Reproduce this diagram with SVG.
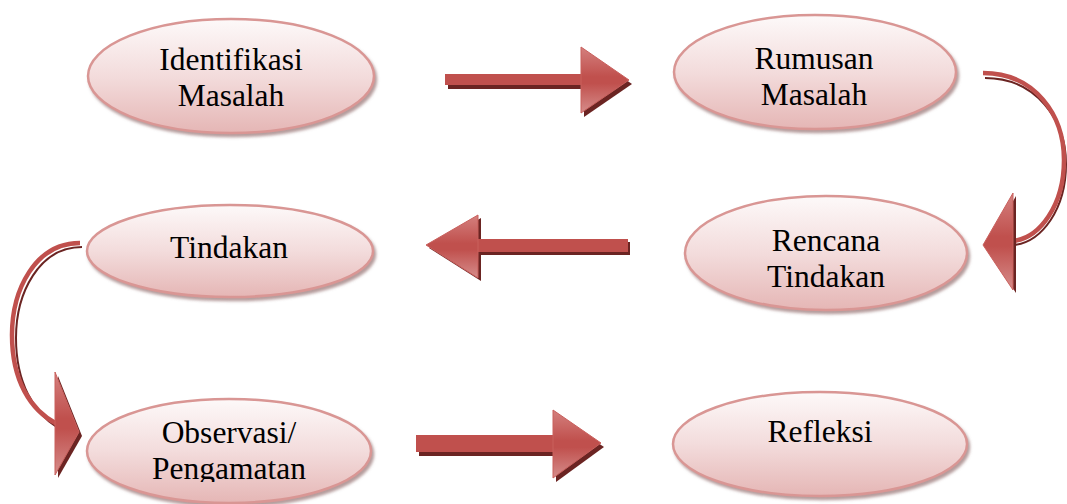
<svg xmlns="http://www.w3.org/2000/svg" width="1067" height="504" viewBox="0 0 1067 504">
<defs>
<style>
.el{fill:url(#eg);stroke:#d99694;stroke-width:2.5;filter:url(#esh)}
.tx{font-family:"Liberation Serif","Times New Roman",serif;font-size:31.5px;fill:#000;text-anchor:middle}
.shaft{fill:#c0504d}
.head{fill:url(#hg);stroke:#c9605d;stroke-width:1}
.shd{fill:#6b2422}
.band{fill:none;stroke:#c0504d;stroke-width:4.5}
.bandsh{fill:none;stroke:#6b2422;stroke-width:2}
</style>
<linearGradient id="eg" x1="0" y1="0" x2="0" y2="1">
<stop offset="0" stop-color="#fdf9f9"/>
<stop offset="0.5" stop-color="#f3dcdc"/>
<stop offset="1" stop-color="#e5b6b5"/>
</linearGradient>
<linearGradient id="hg" x1="0" y1="0" x2="0" y2="1">
<stop offset="0" stop-color="#d4807e"/>
<stop offset="0.45" stop-color="#c0504d"/>
<stop offset="0.55" stop-color="#c0504d"/>
<stop offset="1" stop-color="#d68d8b"/>
</linearGradient>
<filter id="esh" x="-10%" y="-10%" width="125%" height="135%">
<feGaussianBlur in="SourceAlpha" stdDeviation="1.5"/>
<feOffset dx="2" dy="3" result="b"/>
<feFlood flood-color="#9c7a7a" flood-opacity="0.75"/>
<feComposite in2="b" operator="in"/>
<feMerge><feMergeNode/><feMergeNode in="SourceGraphic"/></feMerge>
</filter>
<clipPath id="clipObs"><rect x="0" y="380" width="1067" height="102"/></clipPath>
</defs>
<rect width="1067" height="504" fill="#fff"/>

<g id="connectors">
<g id="arrow-identifikasi-rumusan">
<rect class="shd" x="448" y="78" width="136" height="11"/>
<polygon class="shd" points="584,51 632,84 584,117"/>
<rect class="shaft" x="445" y="74" width="138" height="11"/>
<polygon class="head" points="581,47 629,80 581,113"/>
</g>
<g id="arrow-rumusan-rencana">
<path class="bandsh" d="M985,78 C1036,78 1066,120 1066,164 C1066,209 1042,242 1014,245"/>
<path class="band" d="M983,73 C1035,73 1064,115 1064,160 C1064,205 1040,238 1013,241"/>
<polygon class="shd" points="1016,196 986,248 1016,293"/>
<polygon class="head" points="1013,193 983,245 1013,290"/>
</g>
<g id="arrow-rencana-tindakan">
<rect class="shd" x="481" y="242" width="149" height="13"/>
<polygon class="shd" points="481,218 429,248 481,281"/>
<rect class="shaft" x="478" y="239" width="150" height="13"/>
<polygon class="head" points="478,215 426,245 478,278"/>
</g>
<g id="arrow-tindakan-observasi">
<path class="bandsh" d="M82,247 C39,247 16,293 16,338 C16,383 34,413 58,428"/>
<path class="band" d="M80,243 C35,243 12,290 12,335 C12,380 30,410 57,424"/>
<polygon class="shd" points="58,376 82,436 58,478"/>
<polygon class="head" points="55,372 79,432 55,475"/>
</g>
<g id="arrow-observasi-refleksi">
<rect class="shd" x="419" y="440" width="136" height="16"/>
<polygon class="shd" points="556,414 604,447 556,482"/>
<rect class="shaft" x="416" y="435" width="138" height="17"/>
<polygon class="head" points="553,410 601,443 553,478"/>
</g>
</g>

<g id="node-identifikasi">
<ellipse class="el" cx="231" cy="76" rx="143" ry="57"/>
<text class="tx" x="231" y="70">Identifikasi</text>
<text class="tx" x="231" y="106">Masalah</text>
</g>
<g id="node-rumusan">
<ellipse class="el" cx="815" cy="72" rx="141" ry="57"/>
<text class="tx" x="814" y="69">Rumusan</text>
<text class="tx" x="814" y="105">Masalah</text>
</g>
<g id="node-rencana">
<ellipse class="el" cx="826" cy="253" rx="141" ry="57"/>
<text class="tx" x="826" y="251">Rencana</text>
<text class="tx" x="826" y="287">Tindakan</text>
</g>
<g id="node-tindakan">
<ellipse class="el" cx="230" cy="251" rx="143" ry="46"/>
<text class="tx" x="229" y="258">Tindakan</text>
</g>
<g id="node-observasi">
<ellipse class="el" cx="229" cy="451" rx="142" ry="52"/>
<g clip-path="url(#clipObs)">
<text class="tx" x="229" y="443">Observasi/</text>
<text class="tx" x="229" y="479">Pengamatan</text>
</g>
</g>
<g id="node-refleksi">
<ellipse class="el" cx="820" cy="444" rx="147" ry="52"/>
<text class="tx" x="820" y="442">Refleksi</text>
</g>
</svg>
